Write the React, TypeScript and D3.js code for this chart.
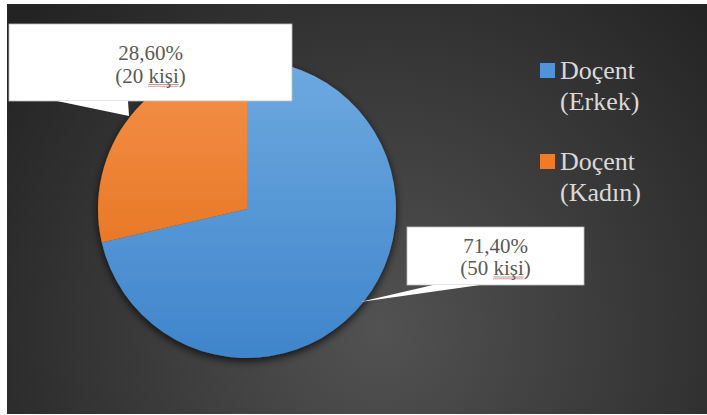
import React, { useEffect, useRef } from "react";
import * as d3 from "d3";

const categories = ["Doçent (Erkek)", "Doçent (Kadın)"];
const legendLines = [["Doçent", "(Erkek)"], ["Doçent", "(Kadın)"]];
const values = [71.4, 28.6];
const percentLabels = ["71,40%", "28,60%"];
const countLabels = ["(50 ", "(20 "];
const countWord = "kişi";
const colorsTop = ["#6ea9e0", "#f4914c"];
const colorsBottom = ["#3f85cb", "#e1690f"];
const legendSwatch = ["#4f93d8", "#f07a26"];

const W = 707;
const H = 415;
const FONT = "Liberation Serif, Times New Roman, DejaVu Serif, serif";

export default function App() {
  const ref = useRef<SVGSVGElement | null>(null);

  useEffect(() => {
    const svg = d3.select(ref.current);
    svg.selectAll("*").remove();
    const defs = svg.append("defs");

    const bg = defs.append("radialGradient").attr("id", "bg")
      .attr("gradientUnits", "userSpaceOnUse")
      .attr("cx", 380).attr("cy", 330).attr("r", 470);
    bg.append("stop").attr("offset", "0%").attr("stop-color", "#525252");
    bg.append("stop").attr("offset", "100%").attr("stop-color", "#232323");

    values.forEach((_, i) => {
      const g = defs.append("linearGradient").attr("id", "sl" + i)
        .attr("gradientUnits", "userSpaceOnUse")
        .attr("x1", 0).attr("y1", -149).attr("x2", 0).attr("y2", 149);
      g.append("stop").attr("offset", "0%").attr("stop-color", colorsTop[i]);
      g.append("stop").attr("offset", "100%").attr("stop-color", colorsBottom[i]);
    });

    const f = defs.append("filter").attr("id", "sh")
      .attr("x", "-20%").attr("y", "-20%").attr("width", "140%").attr("height", "140%");
    f.append("feDropShadow").attr("dx", 0).attr("dy", 3).attr("stdDeviation", 4)
      .attr("flood-color", "#000").attr("flood-opacity", 0.75);

    svg.append("rect").attr("x", 7).attr("y", 4).attr("width", W - 7).attr("height", 410)
      .attr("fill", "url(#bg)");

    const cx = 247, cy = 209, r = 149;
    const pie = d3.pie<number>().sort(null).value((d) => d);
    const arcs = pie(values);
    const arc = d3.arc<d3.PieArcDatum<number>>().innerRadius(0).outerRadius(r);
    const gp = svg.append("g").attr("transform", `translate(${cx},${cy})`).attr("filter", "url(#sh)");
    gp.selectAll("path").data(arcs).enter().append("path")
      .attr("d", arc as any)
      .attr("fill", (_d, i) => `url(#sl${i})`);

    const boxes = [
      { x: 407, y: 227, w: 177, h: 58, tail: [[360, 302], [433, 285], [480, 285]] },
      { x: 9, y: 24, w: 283, h: 77, tail: [[57, 101], [129, 116], [128, 101]] },
    ];
    boxes.forEach((b, i) => {
      const g = svg.append("g");
      g.append("rect").attr("x", b.x).attr("y", b.y).attr("width", b.w).attr("height", b.h)
        .attr("fill", "#fff").attr("stroke", "#bdbdbd").attr("stroke-width", 0.8);
      g.append("path").attr("d", "M" + b.tail.map((p) => p.join(",")).join("L") + "Z")
        .attr("fill", "#fff");
      const mx = b.x + b.w / 2;
      const l1 = i === 0 ? 252.5 : 60;
      const l2 = l1 + 22.5;
      g.append("text").attr("x", mx).attr("y", l1).attr("text-anchor", "middle")
        .style("font-family", FONT)
        .attr("font-size", 21).attr("fill", "#595959").text(percentLabels[i]);
      const t2 = g.append("text").attr("x", mx).attr("y", l2).attr("text-anchor", "middle")
        .style("font-family", FONT)
        .attr("font-size", 21).attr("fill", "#595959");
      t2.append("tspan").text(countLabels[i]);
      t2.append("tspan").text(countWord);
      t2.append("tspan").text(")");
      const node = t2.node() as SVGTextElement;
      try {
        const start = countLabels[i].length;
        const s = node.getStartPositionOfChar(start).x;
        const e = node.getEndPositionOfChar(start + countWord.length - 1).x;
        g.append("line").attr("x1", s).attr("x2", e).attr("y1", l2 + 2).attr("y2", l2 + 2)
          .attr("stroke", "#8c8c8c").attr("stroke-width", 0.8);
        g.append("line").attr("x1", s).attr("x2", e).attr("y1", l2 + 3.8).attr("y2", l2 + 3.8)
          .attr("stroke", "#e03030").attr("stroke-width", 1).attr("stroke-dasharray", "1,1");
      } catch (err) {}
    });

    const ly = [79, 170];
    legendLines.forEach((lines, i) => {
      const g = svg.append("g");
      g.append("rect").attr("x", 540).attr("y", ly[i] - 16).attr("width", 15).attr("height", 15)
        .attr("fill", legendSwatch[i]);
      lines.forEach((ln, j) => {
        g.append("text").attr("x", 560).attr("y", ly[i] + j * 31)
          .style("font-family", FONT)
          .attr("font-size", 26).attr("fill", "#d9d9d9").text(ln);
      });
      g.append("title").text(categories[i]);
    });
  }, []);

  return (
    <svg ref={ref} width={W} height={H}
      style={{ position: "absolute", left: 0, top: 0, background: "#fff" }} />
  );
}
